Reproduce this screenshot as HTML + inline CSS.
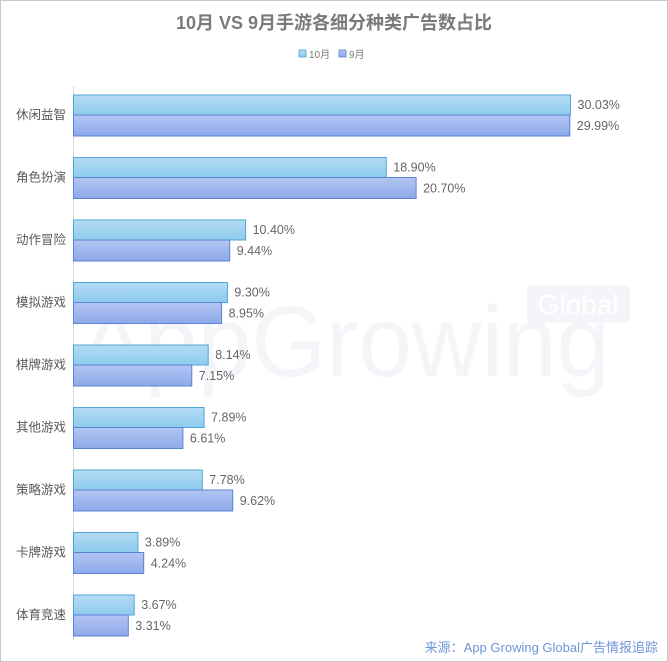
<!DOCTYPE html>
<html><head><meta charset="utf-8"><style>
body{margin:0;background:#fff}
svg{display:block;font-family:"Liberation Sans","Noto Sans CJK SC",sans-serif}
</style></head><body>
<svg width="668" height="662" viewBox="0 0 668 662" xmlns="http://www.w3.org/2000/svg">
<defs>
<linearGradient id="ga" x1="0" y1="0" x2="0" y2="1"><stop offset="0" stop-color="#b5dcf3"/><stop offset="1" stop-color="#8ccbee"/></linearGradient>
<linearGradient id="gb" x1="0" y1="0" x2="0" y2="1"><stop offset="0" stop-color="#b3c5f2"/><stop offset="1" stop-color="#8ea9ea"/></linearGradient>
</defs>
<rect x="0.5" y="0.5" width="667" height="661" fill="#fff" stroke="#c8c8c8"/>
<text x="80" y="376" font-size="100" fill="#f3f5f8" textLength="530" lengthAdjust="spacingAndGlyphs">AppGrowing</text>
<rect x="527" y="285" width="103" height="38" rx="4" fill="#f3f5f8"/>
<text x="578" y="314" text-anchor="middle" font-size="28" fill="#fff">Global</text>
<text x="334" y="29" text-anchor="middle" font-size="18" font-weight="bold" fill="#7a7a7a">10月 VS 9月手游各细分种类广告数占比</text>
<rect x="299" y="50" width="7" height="7" fill="url(#ga)" stroke="#4ea6d6" stroke-width="0.8"/>
<text x="309" y="58" font-size="10" fill="#777">10月</text>
<rect x="339" y="50" width="7" height="7" fill="url(#gb)" stroke="#5a82d6" stroke-width="0.8"/>
<text x="349" y="58" font-size="10" fill="#777">9月</text>
<line x1="73.5" y1="86" x2="73.5" y2="640" stroke="#d9d9d9"/>
<g fill="url(#ga)" stroke="#4ea6d6">
<rect x="73.5" y="95" width="497" height="20"/>
<rect x="73.5" y="157.5" width="312.8" height="20"/>
<rect x="73.5" y="220" width="172.1" height="20"/>
<rect x="73.5" y="282.5" width="153.9" height="20"/>
<rect x="73.5" y="345" width="134.7" height="20"/>
<rect x="73.5" y="407.5" width="130.6" height="20"/>
<rect x="73.5" y="470" width="128.8" height="20"/>
<rect x="73.5" y="532.5" width="64.4" height="20"/>
<rect x="73.5" y="595" width="60.7" height="20"/>
</g>
<g fill="url(#gb)" stroke="#5a82d6">
<rect x="73.5" y="115" width="496.3" height="21"/>
<rect x="73.5" y="177.5" width="342.6" height="21"/>
<rect x="73.5" y="240" width="156.2" height="21"/>
<rect x="73.5" y="302.5" width="148.1" height="21"/>
<rect x="73.5" y="365" width="118.3" height="21"/>
<rect x="73.5" y="427.5" width="109.4" height="21"/>
<rect x="73.5" y="490" width="159.2" height="21"/>
<rect x="73.5" y="552.5" width="70.2" height="21"/>
<rect x="73.5" y="615" width="54.8" height="21"/>
</g>
<g font-size="12.5" fill="#595959" text-anchor="end">
<text x="66" y="119">休闲益智</text>
<text x="66" y="181.5">角色扮演</text>
<text x="66" y="244">动作冒险</text>
<text x="66" y="306.5">模拟游戏</text>
<text x="66" y="369">棋牌游戏</text>
<text x="66" y="431.5">其他游戏</text>
<text x="66" y="494">策略游戏</text>
<text x="66" y="556.5">卡牌游戏</text>
<text x="66" y="619">体育竞速</text>
</g>
<g font-size="12.5" fill="#666">
<text x="577.5" y="109">30.03%</text><text x="576.8" y="130">29.99%</text>
<text x="393.3" y="171.5">18.90%</text><text x="423.1" y="192.5">20.70%</text>
<text x="252.6" y="234">10.40%</text><text x="236.7" y="255">9.44%</text>
<text x="234.4" y="296.5">9.30%</text><text x="228.6" y="317.5">8.95%</text>
<text x="215.2" y="359">8.14%</text><text x="198.8" y="380">7.15%</text>
<text x="211.1" y="421.5">7.89%</text><text x="189.9" y="442.5">6.61%</text>
<text x="209.3" y="484">7.78%</text><text x="239.7" y="505">9.62%</text>
<text x="144.9" y="546.5">3.89%</text><text x="150.7" y="567.5">4.24%</text>
<text x="141.2" y="609">3.67%</text><text x="135.3" y="630">3.31%</text>
</g>
<text x="658" y="652" text-anchor="end" font-size="13" fill="#6f94d8">来源：App Growing Global广告情报追踪</text>
</svg>
</body></html>
